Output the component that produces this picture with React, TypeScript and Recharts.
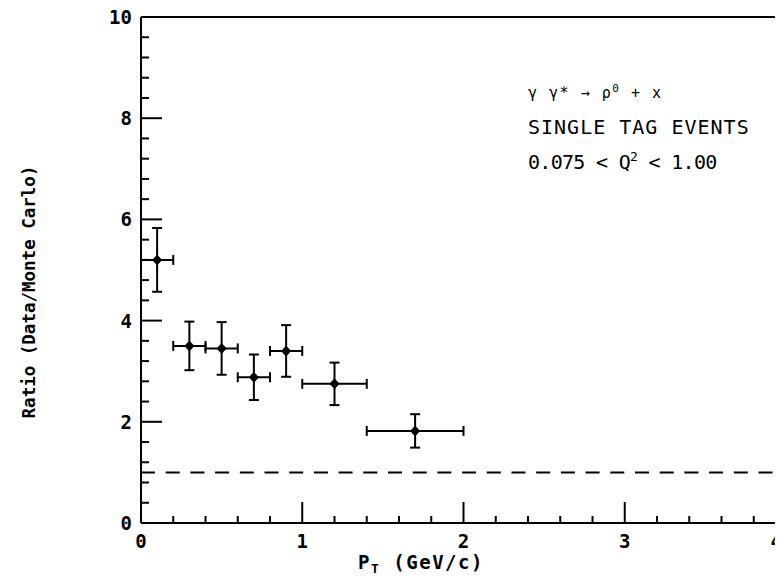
import { ScatterChart, Scatter, XAxis, YAxis, ErrorBar, ReferenceLine } from "recharts";

// P_T bin centres (GeV/c), half bin widths, ratio and its error
const ptValues = [0.1, 0.3, 0.5, 0.7, 0.9, 1.2, 1.7];
const ptHalfWidths = [0.1, 0.1, 0.1, 0.1, 0.1, 0.2, 0.3];
const ratioValues = [5.2, 3.5, 3.45, 2.88, 3.4, 2.75, 1.82];
const ratioErrors = [0.63, 0.48, 0.52, 0.45, 0.51, 0.42, 0.33];

const xTicks = [0, 0.2, 0.4, 0.6, 0.8, 1, 1.2, 1.4, 1.6, 1.8, 2, 2.2, 2.4, 2.6, 2.8, 3, 3.2, 3.4, 3.6, 3.8, 4];
const yTicks = [
  0, 0.4, 0.8, 1.2, 1.6, 2, 2.4, 2.8, 3.2, 3.6, 4, 4.4, 4.8, 5.2, 5.6, 6, 6.4, 6.8, 7.2, 7.6, 8, 8.4, 8.8, 9.2,
  9.6, 10,
];
const unityLine = 1;

const data = ptValues.map((pt, i) => ({
  pt,
  ratio: ratioValues[i],
  ex: ptHalfWidths[i],
  ey: ratioErrors[i],
}));

const MONO = "'DejaVu Sans Mono', monospace";
const INK = "#000";
const PAGE_W = 783;

const isMajorX = (v: number) => Number.isInteger(v);
const isMajorY = (v: number) => Number.isInteger(v) && v % 2 === 0;

const BottomTick = (props: any) => {
  const { x, y, payload } = props;
  const major = isMajorX(payload.value);
  // the last label sits on the page edge, keep it inside
  const atEdge = x + 6 > PAGE_W;
  return (
    <g>
      <line x1={x} y1={y} x2={x} y2={y - (major ? 21 : 7)} stroke={INK} strokeWidth={2} />
      {major && (
        <text
          x={atEdge ? PAGE_W - 1 : x}
          y={y + 25}
          textAnchor={atEdge ? "end" : "middle"}
          fontFamily={MONO}
          fontWeight="bold"
          fontSize={19}
          fill={INK}
        >
          {payload.value}
        </text>
      )}
    </g>
  );
};

const TopTick = (props: any) => {
  const { x, y, payload } = props;
  const major = isMajorX(payload.value);
  return <line x1={x} y1={y} x2={x} y2={y + (major ? 21 : 8)} stroke={INK} strokeWidth={2} />;
};

const LeftTick = (props: any) => {
  const { x, y, payload } = props;
  const major = isMajorY(payload.value);
  return (
    <g>
      <line x1={x} y1={y} x2={x + (major ? 21 : 8)} y2={y} stroke={INK} strokeWidth={2} />
      {major && (
        <text x={x - 9} y={y + 7} textAnchor="end" fontFamily={MONO} fontWeight="bold" fontSize={19} fill={INK}>
          {payload.value}
        </text>
      )}
    </g>
  );
};

const RightTick = (props: any) => {
  const { x, y, payload } = props;
  const major = isMajorY(payload.value);
  return <line x1={x} y1={y} x2={x - (major ? 20 : 7)} y2={y} stroke={INK} strokeWidth={2} />;
};

const axisLine = { stroke: INK, strokeWidth: 2 };

export default function App() {
  return (
    <div style={{ position: "relative", margin: -8, width: PAGE_W, height: 581, overflow: "hidden", background: "#fff" }}>
      <ScatterChart width={787} height={581} margin={{ top: 16, right: 0, bottom: 57, left: 140 }}>
        <XAxis
          dataKey="pt"
          type="number"
          domain={[0, 4]}
          ticks={xTicks}
          interval={0}
          height={1}
          tickSize={0}
          tickMargin={0}
          tickLine={false}
          axisLine={axisLine}
          tick={BottomTick}
        />
        <XAxis
          xAxisId="top"
          orientation="top"
          type="number"
          domain={[0, 4]}
          ticks={xTicks}
          interval={0}
          height={1}
          tickSize={0}
          tickMargin={0}
          tickLine={false}
          axisLine={axisLine}
          tick={TopTick}
        />
        <YAxis
          dataKey="ratio"
          type="number"
          domain={[0, 10]}
          ticks={yTicks}
          interval={0}
          width={1}
          tickSize={0}
          tickMargin={0}
          tickLine={false}
          axisLine={axisLine}
          tick={LeftTick}
        />
        <YAxis
          yAxisId="right"
          orientation="right"
          type="number"
          domain={[0, 10]}
          ticks={yTicks}
          interval={0}
          width={1}
          tickSize={0}
          tickMargin={0}
          tickLine={false}
          axisLine={axisLine}
          tick={RightTick}
        />
        <ReferenceLine y={unityLine} stroke={INK} strokeWidth={2} strokeDasharray="14 10.7" />
        <Scatter
          data={data}
          isAnimationActive={false}
          fill={INK}
          shape={(p: any) => (
            <path
              d={`M${p.cx},${p.cy - 5.5} L${p.cx + 5},${p.cy} L${p.cx},${p.cy + 5.5} L${p.cx - 5},${p.cy} Z`}
              fill={INK}
            />
          )}
        >
          <ErrorBar dataKey="ex" direction="x" stroke={INK} strokeWidth={2} width={5} />
          <ErrorBar dataKey="ey" direction="y" stroke={INK} strokeWidth={2} width={5} />
        </Scatter>
      </ScatterChart>
      <svg width={PAGE_W} height={581} style={{ position: "absolute", left: 0, top: 0, pointerEvents: "none" }}>
        <text x={528} y={98} fontFamily={MONO} fontSize={15} letterSpacing={1.5} fill={INK}>
          γ γ* → ρ<tspan dy={-6} fontSize={11}>0</tspan>
          <tspan dy={6}> + x</tspan>
        </text>
        <text x={528} y={134} fontFamily={MONO} fontSize={20} letterSpacing={1} fill={INK}>
          SINGLE TAG EVENTS
        </text>
        <text x={528} y={169} fontFamily={MONO} fontSize={20} letterSpacing={-0.7} fill={INK}>
          0.075 {"<"} Q<tspan dy={-8} fontSize={13}>2</tspan>
          <tspan dy={8}> {"<"} 1.00</tspan>
        </text>
        <text x={421} y={569} textAnchor="middle" fontFamily={MONO} fontWeight="bold" fontSize={19} letterSpacing={1.5} fill={INK}>
          P<tspan dy={4} fontSize={13}>T</tspan>
          <tspan dy={-4}> (GeV/c)</tspan>
        </text>
        <text
          x={35}
          y={292}
          transform="rotate(-90 35 292)"
          textAnchor="middle"
          fontFamily={MONO}
          fontWeight="bold"
          fontSize={17.5}
          fill={INK}
        >
          Ratio (Data/Monte Carlo)
        </text>
      </svg>
    </div>
  );
}
